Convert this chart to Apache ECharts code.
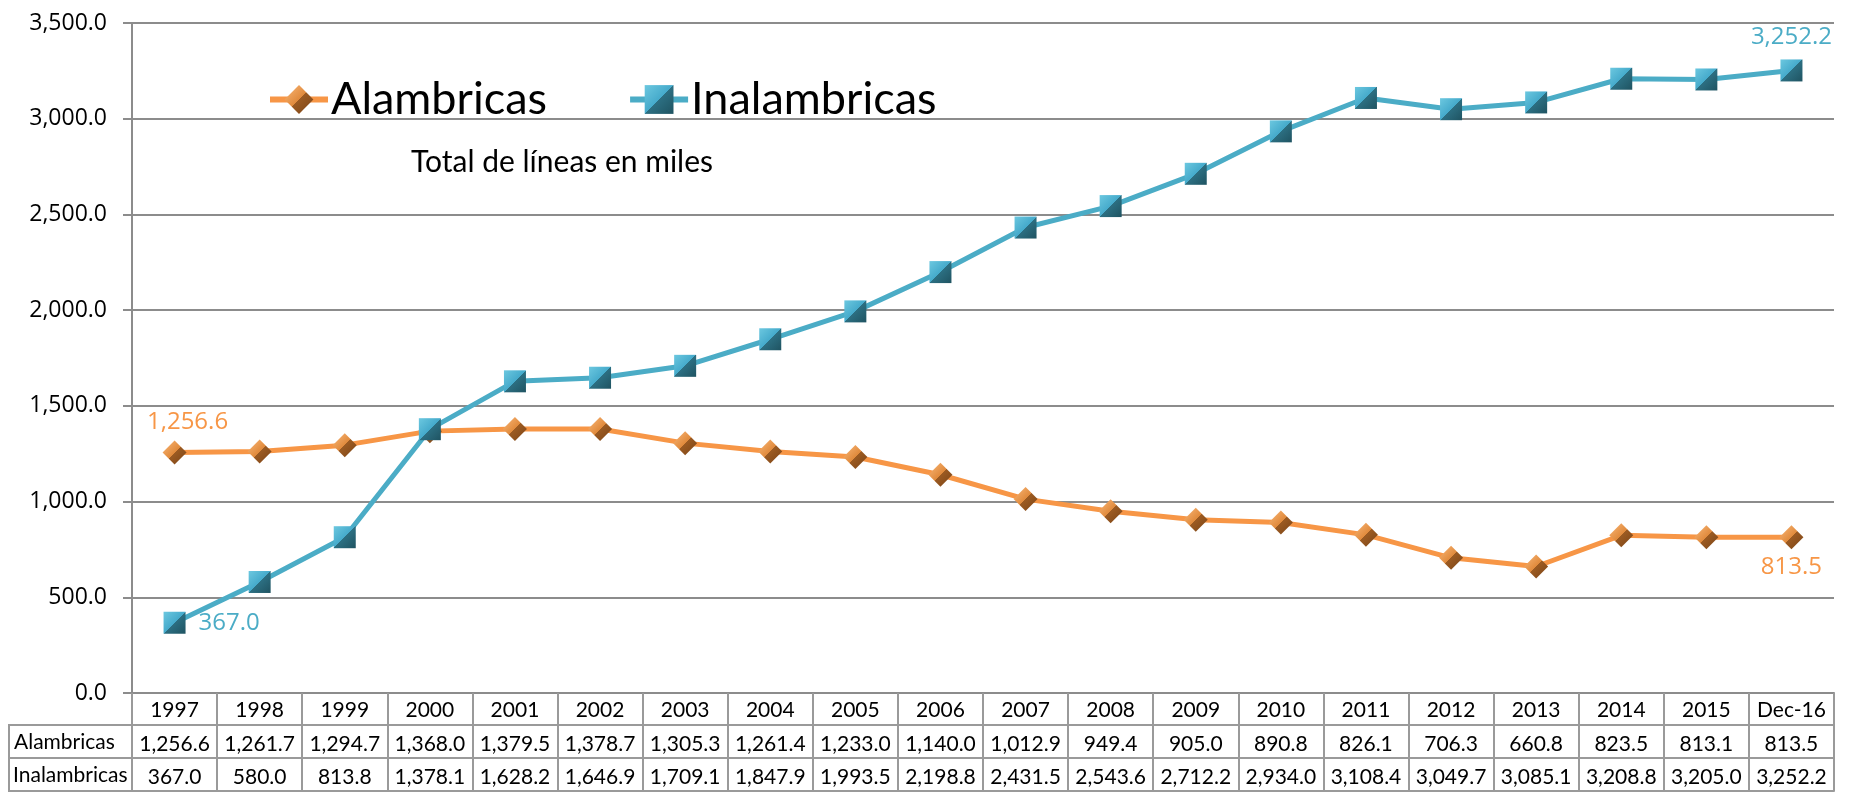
<!DOCTYPE html>
<html>
<head>
<meta charset="utf-8">
<script src="https://cdn.jsdelivr.net/npm/echarts@6/dist/echarts.min.js"></script>
<style>
  html, body { margin: 0; padding: 0; background: #fff; }
  #chart { width: 1858px; height: 798px; }
</style>
</head>
<body>
<div id="chart"></div>
<script>
const categories = ['1997', '1998', '1999', '2000', '2001', '2002', '2003', '2004', '2005', '2006',
  '2007', '2008', '2009', '2010', '2011', '2012', '2013', '2014', '2015', 'Dec-16'];
const alambricas = [1256.6, 1261.7, 1294.7, 1368.0, 1379.5, 1378.7, 1305.3, 1261.4, 1233.0, 1140.0,
  1012.9, 949.4, 905.0, 890.8, 826.1, 706.3, 660.8, 823.5, 813.1, 813.5];
const inalambricas = [367.0, 580.0, 813.8, 1378.1, 1628.2, 1646.9, 1709.1, 1847.9, 1993.5, 2198.8,
  2431.5, 2543.6, 2712.2, 2934.0, 3108.4, 3049.7, 3085.1, 3208.8, 3205.0, 3252.2];
const seriesNames = ['Alambricas', 'Inalambricas'];
const yMin = 0, yMax = 3500, yStep = 500;
const subtitle = 'Total de líneas en miles';

const ORANGE = '#F79646';
const BLUE = '#4BACC6';
const GRID = '#8c8c8c';
const TABLE = '#9a9a9a';

const fmt = v => v.toLocaleString('en-US', { minimumFractionDigits: 1, maximumFractionDigits: 1 });

const chart = echarts.init(document.getElementById('chart'));

const labelFont = { fontFamily: 'Open Sans', fontSize: 24, formatter: p => fmt(p.value) };

// first and last points get their value labels
function withEndLabels(values, color, first, last) {
  return values.map((v, i) => {
    if (i === 0) return { value: v, label: Object.assign({ show: true, color: color }, labelFont, first) };
    if (i === values.length - 1) return { value: v, label: Object.assign({ show: true, color: color }, labelFont, last) };
    return v;
  });
}

const diamondFill = new echarts.graphic.LinearGradient(0, 0, 1, 1, [
  { offset: 0, color: '#FBB97A' }, { offset: 0.5, color: '#E08A3C' },
  { offset: 0.5, color: '#9C5B22' }, { offset: 1, color: '#7A4316' }
]);
const squareFill = new echarts.graphic.LinearGradient(0, 0, 1, 1, [
  { offset: 0, color: '#6CC8E0' }, { offset: 0.5, color: '#45AACB' },
  { offset: 0.5, color: '#2C6F82' }, { offset: 1, color: '#1F5361' }
]);

const tableText = { fontFamily: 'Lato', fontSize: 21, color: '#000' };

const option = {
  animation: false,
  backgroundColor: '#fff',
  title: {
    text: subtitle,
    left: 406,
    top: 142,
    textStyle: { fontFamily: 'Lato', fontSize: 30, fontWeight: 'normal', color: '#000' }
  },
  legend: {
    data: seriesNames,
    left: 262,
    top: 72,
    itemWidth: 58,
    itemHeight: 36,
    itemGap: 80,
    lineStyle: { width: 6 },
    textStyle: { fontFamily: 'Lato', fontSize: 45, color: '#000', padding: [0, 0, 0, -2] }
  },
  grid: { left: 132, right: 24, top: 23, bottom: 105, containLabel: false },
  xAxis: [
    {
      type: 'category',
      data: categories,
      boundaryGap: true,
      axisLine: { lineStyle: { color: GRID, width: 2 } },
      axisTick: { show: true, interval: 0, length: 98, lineStyle: { color: TABLE, width: 2 } },
      axisLabel: { interval: 0, margin: 7, ...tableText }
    },
    {
      type: 'category',
      data: categories,
      position: 'bottom',
      offset: 32,
      axisLine: { lineStyle: { color: TABLE, width: 2 } },
      axisTick: { show: false },
      axisLabel: { interval: 0, margin: 9, formatter: (v, i) => fmt(alambricas[i]), ...tableText }
    },
    {
      type: 'category',
      data: categories,
      position: 'bottom',
      offset: 65,
      axisLine: { lineStyle: { color: TABLE, width: 2 } },
      axisTick: { show: false },
      axisLabel: { interval: 0, margin: 9, formatter: (v, i) => fmt(inalambricas[i]), ...tableText }
    },
    {
      type: 'category',
      data: categories,
      position: 'bottom',
      offset: 98,
      axisLine: { lineStyle: { color: TABLE, width: 2 } },
      axisTick: { show: false },
      axisLabel: { show: false }
    }
  ],
  yAxis: {
    type: 'value',
    min: yMin,
    max: yMax,
    interval: yStep,
    axisLine: { show: true, lineStyle: { color: GRID, width: 2 } },
    axisTick: { show: true, length: 9, lineStyle: { color: GRID, width: 2 } },
    splitLine: { lineStyle: { color: GRID, width: 2 } },
    axisLabel: { margin: 25, formatter: v => fmt(v), fontFamily: 'Open Sans', fontSize: 23, color: '#000' }
  },
  graphic: [
    { type: 'line', shape: { x1: 9, y1: 725, x2: 132, y2: 725 }, style: { stroke: TABLE, lineWidth: 2 } },
    { type: 'line', shape: { x1: 9, y1: 758, x2: 132, y2: 758 }, style: { stroke: TABLE, lineWidth: 2 } },
    { type: 'line', shape: { x1: 9, y1: 791, x2: 132, y2: 791 }, style: { stroke: TABLE, lineWidth: 2 } },
    { type: 'line', shape: { x1: 9, y1: 724, x2: 9, y2: 792 }, style: { stroke: TABLE, lineWidth: 2 } },
    { type: 'text', left: 14, top: 732, style: { text: seriesNames[0], font: '21px Lato', fill: '#000' } },
    { type: 'text', left: 13, top: 765, style: { text: seriesNames[1], font: '21px Lato', fill: '#000' } }
  ],
  series: [
    {
      name: seriesNames[0],
      type: 'line',
      data: withEndLabels(alambricas, ORANGE,
        { position: 'top', distance: 6, offset: [13, 0] },
        { position: 'bottom', distance: 6 }),
      symbol: 'diamond',
      symbolSize: 24,
      lineStyle: { color: ORANGE, width: 5 },
      itemStyle: { color: diamondFill, borderWidth: 0 },
      label: { show: false },
      z: 3
    },
    {
      name: seriesNames[1],
      type: 'line',
      data: withEndLabels(inalambricas, BLUE,
        { position: 'right', distance: 13 },
        { position: 'top', distance: 10 }),
      symbol: 'rect',
      symbolSize: 22,
      lineStyle: { color: BLUE, width: 5 },
      itemStyle: { color: squareFill, borderWidth: 0 },
      label: { show: false },
      z: 4
    }
  ]
};

chart.setOption(option);
</script>
</body>
</html>
